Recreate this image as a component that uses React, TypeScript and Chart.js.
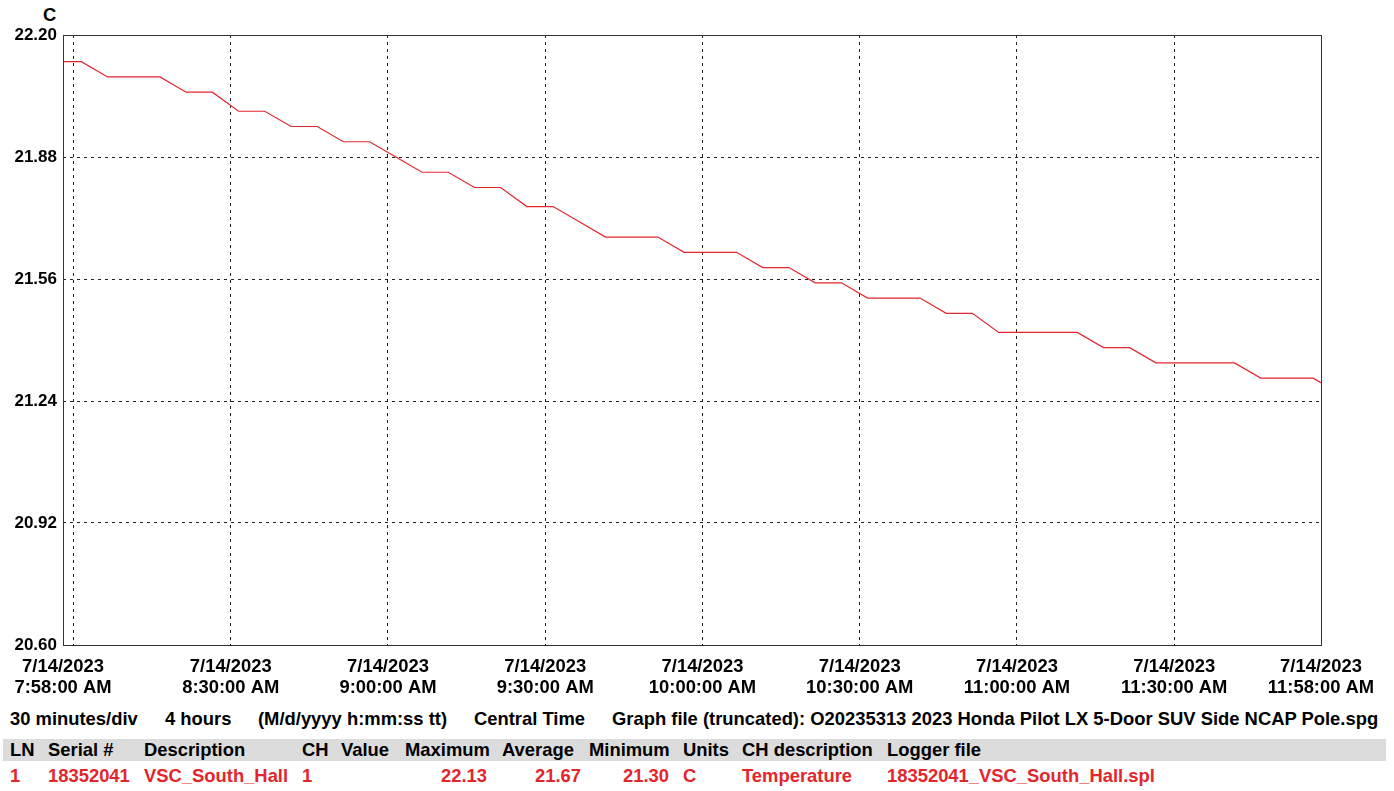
import React, { useEffect, useRef } from "react";
import { Chart, registerables } from "chart.js";

Chart.register(...registerables);

// Minutes after 7:58:00 AM for each logged sample
const sampleMinutes = [
  -1.5, 3.5, 8.5, 13.5, 18.5, 23.5, 28.5, 33.5, 38.5, 43.5, 48.5, 53.5, 58.5,
  63.5, 68.5, 73.5, 78.5, 83.5, 88.5, 93.5, 98.5, 103.5, 108.5, 113.5, 118.5,
  123.5, 128.5, 133.5, 138.5, 143.5, 148.5, 153.5, 158.5, 163.5, 168.5, 173.5,
  178.5, 183.5, 188.5, 193.5, 198.5, 203.5, 208.5, 213.5, 218.5, 223.5, 228.5,
  233.5, 238.5, 243.5,
];
// Temperature (C)
const temperatures = [
  22.13, 22.13, 22.09, 22.09, 22.09, 22.05, 22.05, 22.0, 22.0, 21.96, 21.96,
  21.92, 21.92, 21.88, 21.84, 21.84, 21.8, 21.8, 21.75, 21.75, 21.71, 21.67,
  21.67, 21.67, 21.63, 21.63, 21.63, 21.59, 21.59, 21.55, 21.55, 21.51, 21.51,
  21.51, 21.47, 21.47, 21.42, 21.42, 21.42, 21.42, 21.38, 21.38, 21.34, 21.34,
  21.34, 21.34, 21.3, 21.3, 21.3, 21.26,
];

const yTicks = [20.6, 20.92, 21.24, 21.56, 21.88, 22.2];
const xTickMinutes = [0, 2, 32, 62, 92, 122, 152, 182, 212, 240];
const xTickLabels = [
  "7:58:00 AM",
  "",
  "8:30:00 AM",
  "9:00:00 AM",
  "9:30:00 AM",
  "10:00:00 AM",
  "10:30:00 AM",
  "11:00:00 AM",
  "11:30:00 AM",
  "11:58:00 AM",
];
const dateLabel = "7/14/2023";

const footerItems = [
  { text: "30 minutes/div", x: 10 },
  { text: "4 hours", x: 165 },
  { text: "(M/d/yyyy h:mm:ss tt)", x: 258 },
  { text: "Central Time", x: 474 },
  {
    text: "Graph file (truncated): O20235313 2023 Honda Pilot LX 5-Door SUV Side NCAP Pole.spg",
    x: 612,
  },
];

const headerItems = [
  { text: "LN", x: 10 },
  { text: "Serial #", x: 48 },
  { text: "Description", x: 144 },
  { text: "CH", x: 302 },
  { text: "Value", x: 341 },
  { text: "Maximum", x: 405 },
  { text: "Average", x: 502 },
  { text: "Minimum", x: 589 },
  { text: "Units", x: 683 },
  { text: "CH description", x: 742 },
  { text: "Logger file", x: 887 },
];

const rowItems = [
  { text: "1", x: 10 },
  { text: "18352041", x: 48 },
  { text: "VSC_South_Hall", x: 144 },
  { text: "1", x: 302 },
  { text: "22.13", right: 487 },
  { text: "21.67", right: 581 },
  { text: "21.30", right: 669 },
  { text: "C", x: 683 },
  { text: "Temperature", x: 742 },
  { text: "18352041_VSC_South_Hall.spl", x: 887 },
];

const FONT = "'Liberation Sans', Arial, sans-serif";
const RED = "#e3262c";
const TEXT_SIZE = 18.4;

const frameBorder = {
  id: "frameBorder",
  afterDraw(chart: any) {
    const { ctx, chartArea } = chart;
    ctx.save();
    ctx.setLineDash([]);
    ctx.strokeStyle = "#333";
    ctx.lineWidth = 1;
    ctx.strokeRect(
      Math.round(chartArea.left) + 0.5,
      Math.round(chartArea.top) + 0.5,
      Math.round(chartArea.right - chartArea.left),
      Math.round(chartArea.bottom - chartArea.top)
    );
    ctx.restore();
  },
};

export default function App() {
  const canvasRef = useRef<HTMLCanvasElement | null>(null);

  useEffect(() => {
    if (!canvasRef.current) return;
    const chart = new Chart(canvasRef.current, {
      type: "line",
      data: {
        datasets: [
          {
            data: sampleMinutes.map((m, i) => ({ x: m, y: temperatures[i] })),
            borderColor: RED,
            borderWidth: 1.2,
            pointRadius: 0,
            tension: 0,
            fill: false,
          },
        ],
      },
      options: {
        animation: false,
        responsive: false,
        layout: { padding: { left: 0, right: 73, top: 35, bottom: 0 } },
        plugins: {
          legend: { display: false },
          tooltip: { enabled: false },
        },
        scales: {
          x: {
            type: "linear",
            min: 0,
            max: 240,
            afterFit: (s: any) => {
              s.height = 55;
            },
            afterBuildTicks: (s: any) => {
              s.ticks = xTickMinutes.map((v) => ({ value: v }));
            },
            ticks: {
              autoSkip: false,
              maxRotation: 0,
              minRotation: 0,
              padding: 11,
              color: "#000",
              font: { family: FONT, size: TEXT_SIZE, weight: "bold", lineHeight: "21px" },
              callback: (v: any) => {
                const i = xTickMinutes.indexOf(Number(v));
                if (i < 0 || xTickLabels[i] === "") return "";
                return [dateLabel, xTickLabels[i]];
              },
            },
            grid: {
              drawTicks: false,
              lineWidth: 1,
              color: (c: any) => {
                const v = c.tick ? c.tick.value : null;
                return v === 0 || v === 240 ? "rgba(0,0,0,0)" : "#222";
              },
            },
            border: { display: false, dash: [3, 4] },
          },
          y: {
            min: 20.6,
            max: 22.2,
            afterFit: (s: any) => {
              s.width = 63;
            },
            afterBuildTicks: (s: any) => {
              s.ticks = yTicks.map((v) => ({ value: v }));
            },
            ticks: {
              padding: 6,
              color: "#000",
              font: { family: FONT, size: 17, weight: "bold" },
              callback: (v: any) => Number(v).toFixed(2),
            },
            grid: {
              drawTicks: false,
              lineWidth: 1,
              color: (c: any) => {
                const v = c.tick ? c.tick.value : null;
                return v === 20.6 || v === 22.2 ? "rgba(0,0,0,0)" : "#222";
              },
            },
            border: { display: false, dash: [3, 4] },
          },
        },
      },
      plugins: [frameBorder],
    });
    return () => chart.destroy();
  }, []);

  const textStyle: React.CSSProperties = {
    position: "absolute",
    fontFamily: FONT,
    fontSize: TEXT_SIZE,
    fontWeight: "bold",
    lineHeight: "20px",
    whiteSpace: "nowrap",
  };

  return (
    <div
      style={{
        position: "absolute",
        left: 0,
        top: 0,
        width: 1394,
        height: 791,
        background: "#fff",
        overflow: "hidden",
      }}
    >
      <div style={{ ...textStyle, left: 43, top: 5, color: "#000" }}>C</div>
      <canvas
        ref={canvasRef}
        width={1394}
        height={700}
        style={{ position: "absolute", left: 0, top: 0, width: 1394, height: 700 }}
      />
      {footerItems.map((f, i) => (
        <div key={"f" + i} style={{ ...textStyle, left: f.x, top: 709, color: "#000" }}>
          {f.text}
        </div>
      ))}
      <div
        style={{
          position: "absolute",
          left: 3,
          top: 739,
          width: 1383,
          height: 22,
          background: "#dcdcdc",
        }}
      />
      {headerItems.map((h, i) => (
        <div key={"h" + i} style={{ ...textStyle, left: h.x, top: 740, color: "#000" }}>
          {h.text}
        </div>
      ))}
      {rowItems.map((r, i) => (
        <div
          key={"r" + i}
          style={{
            ...textStyle,
            ...(r.right !== undefined ? { right: 1394 - r.right } : { left: r.x }),
            top: 766,
            color: RED,
          }}
        >
          {r.text}
        </div>
      ))}
    </div>
  );
}
